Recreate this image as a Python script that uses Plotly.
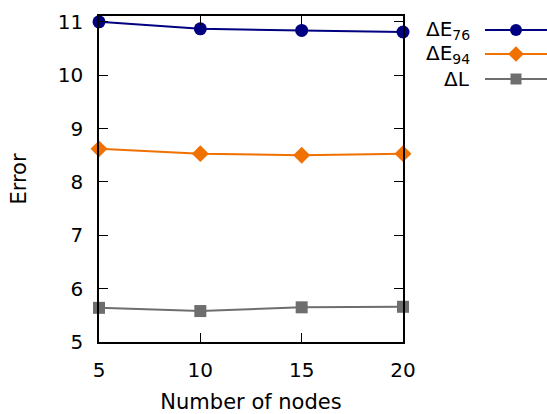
import plotly.graph_objects as go

nodes = [5, 10, 15, 20]
de76 = [11.0, 10.87, 10.84, 10.81]
de94 = [8.62, 8.53, 8.50, 8.53]
dl = [5.64, 5.58, 5.65, 5.66]

series_names = ["ΔE<sub>76</sub>", "ΔE<sub>94</sub>", "ΔL"]
series_values = [de76, de94, dl]
colors = ["#000080", "#f07000", "#6e6e6e"]
symbols = ["circle", "diamond", "square"]
msizes = [13, 13, 12]

W, H = 547, 414
L, T, B, R = 99, 16, 72, 0
pw = W - L - R
ph = H - T - B
plot_right_px = 403

font = dict(family="DejaVu Sans", size=20, color="black")
title_font = dict(family="DejaVu Sans", size=21, color="black")

fig = go.Figure()
for name, vals, c, s, ms in zip(series_names, series_values, colors, symbols, msizes):
    fig.add_trace(go.Scatter(x=nodes, y=vals, mode="lines+markers", name=name,
                             line=dict(color=c, width=2),
                             marker=dict(symbol=s, size=ms, color=c, opacity=1),
                             cliponaxis=False, showlegend=False))

# custom legend (key samples on a helper axis)
row_px = [30, 54, 79]
for i, (name, c, s, ms) in enumerate(zip(series_names, colors, symbols, msizes)):
    yk = row_px[i] - T
    fig.add_trace(go.Scatter(x=[0, 2], y=[yk, yk], mode="lines",
                             xaxis="x2", yaxis="y2", showlegend=False,
                             line=dict(color=c, width=2),
                             cliponaxis=False, hoverinfo="skip"))
    fig.add_trace(go.Scatter(x=[1], y=[yk], mode="markers",
                             xaxis="x2", yaxis="y2", showlegend=False,
                             marker=dict(symbol=s, size=ms - 1, color=c, opacity=1),
                             cliponaxis=False, hoverinfo="skip"))
    fig.add_annotation(text=name, xref="paper", yref="paper",
                       x=(472 - L) / pw, y=1 - (row_px[i] - T) / ph,
                       xanchor="right", yanchor="middle", showarrow=False,
                       font=font)

axis_common = dict(showline=True, linecolor="black", linewidth=1.5, mirror="ticks",
                   ticks="inside", ticklen=9, tickwidth=1.2, tickcolor="black",
                   showgrid=False, zeroline=False, tickfont=font, automargin=False)

fig.update_layout(
    width=W, height=H,
    margin=dict(l=L, r=R, t=T, b=B),
    plot_bgcolor="white", paper_bgcolor="white",
    font=font,
    xaxis=dict(domain=[0, (plot_right_px - L) / pw], range=[5, 20],
               tickvals=[5, 10, 15, 20], ticklabelstandoff=9,
               title=dict(text="Number of nodes", font=title_font, standoff=21),
               **axis_common),
    yaxis=dict(range=[5, 11.11], tickvals=[5, 6, 7, 8, 9, 10, 11],
               ticklabelstandoff=10,
               title=dict(text="Error", font=title_font, standoff=25),
               **axis_common),
    xaxis2=dict(domain=[(485 - L) / pw, 1.0], range=[0, 2], visible=False,
                anchor="y2"),
    yaxis2=dict(domain=[0, 1], range=[ph, 0], visible=False, anchor="x2"),
)

fig.write_html("out.html", config={"displayModeBar": False})
